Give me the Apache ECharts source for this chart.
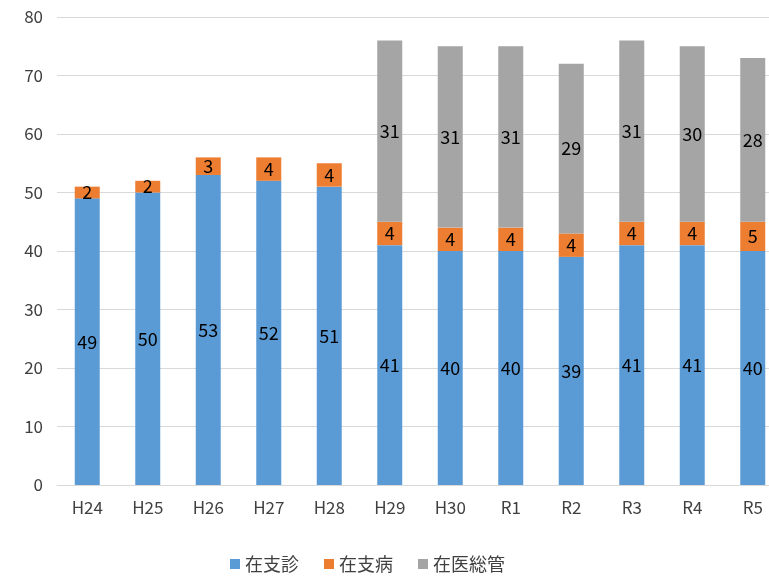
<!DOCTYPE html>
<html>
<head>
<meta charset="utf-8">
<script src="https://cdn.jsdelivr.net/npm/echarts@6/dist/echarts.min.js"></script>
<style>body{margin:0;overflow:hidden}</style>
</head>
<body>
<div id="main" style="width:783px;height:580px;"></div>
<script>
var categories = ['H24','H25','H26','H27','H28','H29','H30','R1','R2','R3','R4','R5'];
var zaishin = [49,50,53,52,51,41,40,40,39,41,41,40];
var zaibyo = [2,2,3,4,4,4,4,4,4,4,4,5];
var isoukan = [null,null,null,null,null,31,31,31,29,31,30,28];
var names = ['在支診','在支病','在医総管'];
var colors = ['#5B9BD5','#ED7D31','#A5A5A5'];

var chart = echarts.init(document.getElementById('main'));
var font = 'Noto Sans CJK JP';
var series = [zaishin, zaibyo, isoukan].map(function (d, i) {
    return {
        name: names[i], type: 'bar', stack: 'a', data: d, barWidth: 25,
        itemStyle: {color: colors[i]},
        label: {show: true, position: 'inside', color: '#000', fontSize: 18, fontFamily: font}
    };
});
chart.setOption({
    textStyle: {fontFamily: font},
    grid: {left: 57, right: 0, top: 17, bottom: 95},
    legend: {bottom: 2, left: 225, itemWidth: 10, itemHeight: 10, itemGap: 25, icon: 'rect',
        textStyle: {fontSize: 18, color: '#404040', fontFamily: font}, data: names},
    xAxis: {type: 'category', data: categories,
        axisLine: {lineStyle: {color: '#d9d9d9'}}, axisTick: {show: false},
        axisLabel: {fontSize: 17, color: '#404040', margin: 14}},
    yAxis: {type: 'value', min: 0, max: 80, interval: 10,
        axisLabel: {fontSize: 17, color: '#404040', margin: 14},
        splitLine: {lineStyle: {color: '#d9d9d9'}}},
    series: series
});
</script>
</body>
</html>
